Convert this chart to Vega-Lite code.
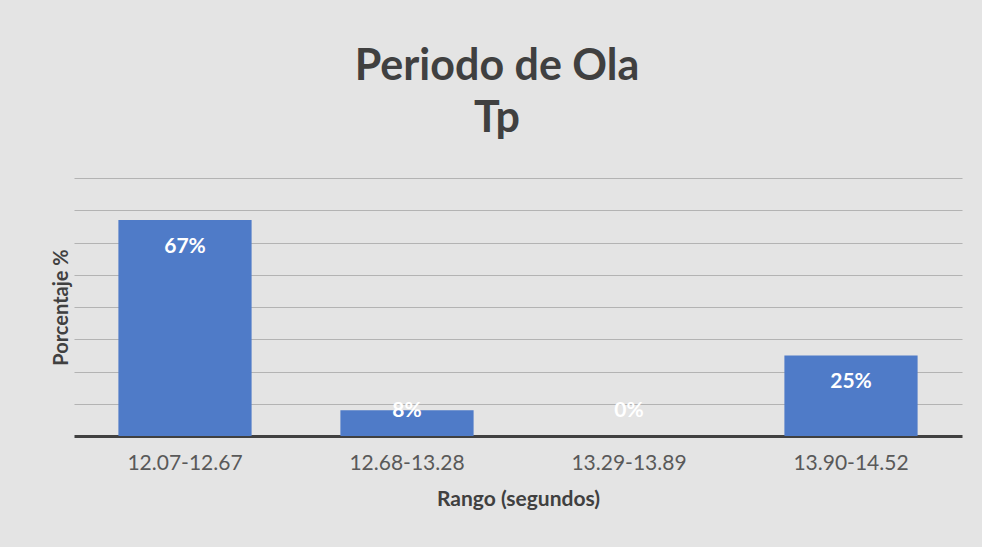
{
  "$schema": "https://vega.github.io/schema/vega-lite/v6.json",
  "autosize": {"type": "none"},
  "width": 888,
  "height": 258,
  "padding": {"left": 74, "top": 178, "right": 20, "bottom": 111},
  "background": "#e4e4e4",
  "config": {"view": {"stroke": null}, "font": "Lato"},
  "title": {
    "text": ["Periodo de Ola", "Tp"],
    "anchor": "middle",
    "dx": -21,
    "offset": 37,
    "fontSize": 43,
    "lineHeight": 52,
    "font": "Lato",
    "fontWeight": "bold",
    "color": "#404040"
  },
  "data": {
    "values": [
      {"rango": "12.07-12.67", "pct": 0.67},
      {"rango": "12.68-13.28", "pct": 0.08},
      {"rango": "13.29-13.89", "pct": 0.0},
      {"rango": "13.90-14.52", "pct": 0.25}
    ]
  },
  "encoding": {
    "x": {
      "field": "rango",
      "type": "nominal",
      "sort": null,
      "scale": {"paddingInner": 0.4, "paddingOuter": 0.2},
      "axis": {
        "title": "Rango (segundos)",
        "labelAngle": 0,
        "labelFontSize": 21,
        "labelColor": "#595959",
        "labelPadding": 16,
        "ticks": false,
        "domainColor": "#404040",
        "domainWidth": 3,
        "titleFontSize": 21,
        "titleFontWeight": "bold",
        "titleColor": "#404040",
        "titlePadding": 15
      }
    }
  },
  "layer": [
    {
      "mark": {"type": "bar", "color": "#4f7bc8"},
      "encoding": {
        "y": {
          "field": "pct",
          "type": "quantitative",
          "scale": {"domain": [0, 0.8]},
          "axis": {
            "title": "Porcentaje %",
            "labels": false,
            "ticks": false,
            "domain": false,
            "tickCount": 8,
            "values": [0.1, 0.2, 0.3, 0.4, 0.5, 0.6, 0.7, 0.8],
            "grid": true,
            "gridColor": "#b3b3b3",
            "gridWidth": 1,
            "titleFontSize": 20,
            "titleFontWeight": "bold",
            "titleColor": "#404040",
            "titlePadding": 3
          }
        }
      }
    },
    {
      "transform": [{"calculate": "max(datum.pct, 0.16)", "as": "ly"}],
      "mark": {"type": "text", "color": "white", "fontSize": 21, "fontWeight": "bold", "dy": 27},
      "encoding": {
        "y": {"field": "ly", "type": "quantitative"},
        "text": {"field": "pct", "type": "quantitative", "format": ".0%"}
      }
    }
  ]
}
